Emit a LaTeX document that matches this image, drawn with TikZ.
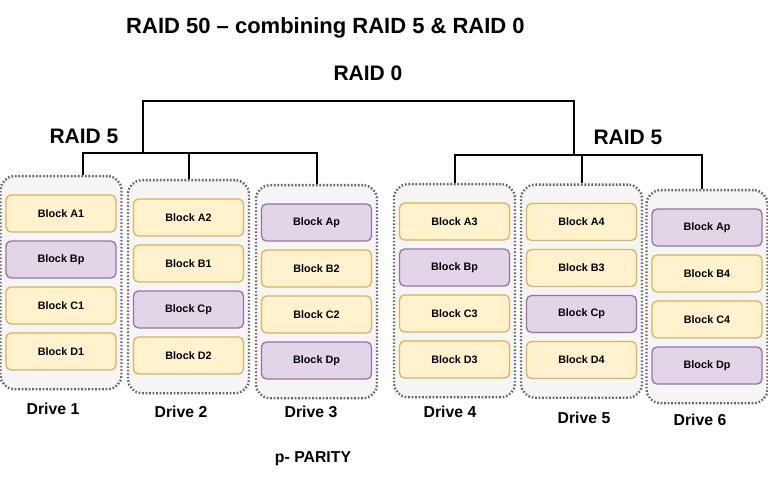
\documentclass[tikz,border=0pt]{standalone}
\usepackage{fontspec}
\setmainfont{Liberation Sans}
\definecolor{dgray}{HTML}{666666}
\definecolor{cfill}{HTML}{F5F5F5}
\definecolor{yfill}{HTML}{FFF2CC}
\definecolor{ydraw}{HTML}{D6B656}
\definecolor{pfill}{HTML}{E1D5E7}
\definecolor{pdraw}{HTML}{9673A6}
\tikzset{
 drivebox/.style={draw=dgray, fill=cfill, line width=2.4pt, dash pattern=on 1.6pt off 1.9pt, rounded corners=14pt, minimum width=121pt, minimum height=213pt, inner sep=0pt},
 blk/.style={rounded corners=5pt, line width=1.3pt, minimum width=110pt, minimum height=37pt, inner sep=0pt, font=\fontsize{10.8}{12}\selectfont\bfseries},
 datablk/.style={blk, draw=ydraw, fill=yfill},
 parblk/.style={blk, draw=pdraw, fill=pfill},
 lbl/.style={font=\fontsize{15.8}{18}\selectfont\bfseries, inner sep=0pt},
 head/.style={font=\fontsize{21}{24}\selectfont\bfseries, inner sep=0pt},
 wire/.style={line width=2pt, line join=miter}
}
\begin{document}
\begin{tikzpicture}[x=1pt,y=-1pt]
\useasboundingbox (0,0) rectangle (768,481);

% titles
\node[head, font=\fontsize{22}{25}\selectfont\bfseries] (title) at (325.5,28) {RAID 50 -- combining RAID 5 \& RAID 0};
\node[head] (raid0) at (368,73) {RAID 0};
\node[head] (raid5l) at (84,136) {RAID 5};
\node[head] (raid5r) at (628,137) {RAID 5};

% drives
\node[drivebox, anchor=north] (d1) at (61,175) {};
\node[drivebox, anchor=north] (d2) at (188.5,179) {};
\node[drivebox, anchor=north] (d3) at (316.5,184) {};
\node[drivebox, anchor=north] (d4) at (454.5,183) {};
\node[drivebox, anchor=north] (d5) at (581.5,183.5) {};
\node[drivebox, anchor=north] (d6) at (707,189) {};

% blocks drive 1
\node[datablk] (a1) at (61,213.5) {Block A1};
\node[parblk]  (b1) at (61,259.5) {Block Bp};
\node[datablk] (c1) at (61,305.5) {Block C1};
\node[datablk] (e1) at (61,351.5) {Block D1};
% drive 2
\node[datablk] (a2) at (188.5,217.5) {Block A2};
\node[datablk] (b2) at (188.5,263.5) {Block B1};
\node[parblk]  (c2) at (188.5,309.5) {Block Cp};
\node[datablk] (e2) at (188.5,355.5) {Block D2};
% drive 3
\node[parblk]  (a3) at (316.5,222.5) {Block Ap};
\node[datablk] (b3) at (316.5,268.5) {Block B2};
\node[datablk] (c3) at (316.5,314.5) {Block C2};
\node[parblk]  (e3) at (316.5,360.5) {Block Dp};
% drive 4
\node[datablk] (a4) at (454.5,221.5) {Block A3};
\node[parblk]  (b4) at (454.5,267.5) {Block Bp};
\node[datablk] (c4) at (454.5,313.5) {Block C3};
\node[datablk] (e4) at (454.5,359.5) {Block D3};
% drive 5
\node[datablk] (a5) at (581.5,222) {Block A4};
\node[datablk] (b5) at (581.5,268) {Block B3};
\node[parblk]  (c5) at (581.5,314) {Block Cp};
\node[datablk] (e5) at (581.5,360) {Block D4};
% drive 6
\node[parblk]  (a6) at (707,227.5) {Block Ap};
\node[datablk] (b6) at (707,273.5) {Block B4};
\node[datablk] (c6) at (707,319.5) {Block C4};
\node[parblk]  (e6) at (707,365.5) {Block Dp};

% labels
\node[lbl] (l1) at (53,409) {Drive 1};
\node[lbl] (l2) at (181,412) {Drive 2};
\node[lbl] (l3) at (311,412) {Drive 3};
\node[lbl] (l4) at (450,412) {Drive 4};
\node[lbl] (l5) at (584,418) {Drive 5};
\node[lbl] (l6) at (700,420) {Drive 6};
\node[lbl] (parity) at (313,459) {p- PARITY};

% tree connectors
\coordinate (r0l) at (143,101);
\coordinate (r0r) at (574,101);
\coordinate (jl) at (143,153);
\coordinate (jr) at (574,155);
\coordinate (t1) at (83,153);
\coordinate (t6) at (702,155);

\draw[wire] (jl) -- (r0l) -- (r0r) -- (jr);
\draw[wire] (t1 |- d1.north) -- (t1) -- (d3.north |- t1) -- (d3.north);
\draw[wire] (d2.north) -- (d2.north |- t1);
\draw[wire] (d4.north) -- (d4.north |- t6) -- (t6) -- (t6 |- d6.north);
\draw[wire] (d5.north) -- (d5.north |- t6);
\end{tikzpicture}
\end{document}
